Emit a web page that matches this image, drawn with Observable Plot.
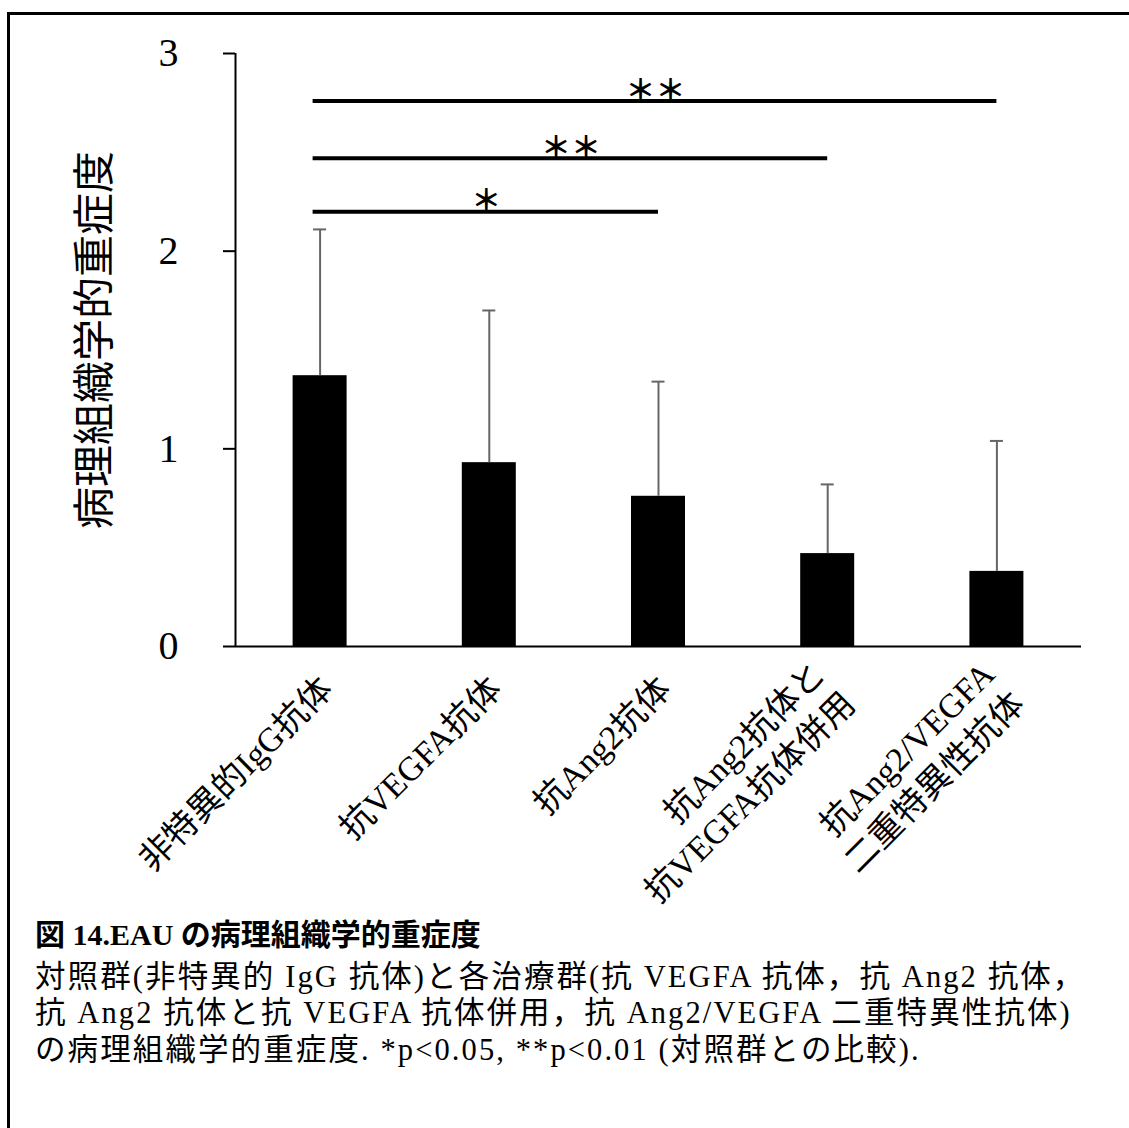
<!DOCTYPE html>
<html><head><meta charset="utf-8">
<script src="https://cdn.jsdelivr.net/npm/d3@7"></script>
<script src="https://cdn.jsdelivr.net/npm/@observablehq/plot@0.6"></script>
<style>
html,body{margin:0;padding:0;background:#fff;}
body{width:1129px;height:1128px;position:relative;overflow:hidden;font-family:"Liberation Serif","Noto Sans CJK JP",serif;color:#000;}
#frame{position:absolute;left:7px;top:12px;right:-10px;bottom:-10px;border-top:3px solid #000;border-left:3px solid #000;pointer-events:none;z-index:2;}
#chart{position:absolute;left:0;top:0;}
.cap{position:absolute;left:35px;white-space:nowrap;z-index:3;}
#title{top:917px;font-size:30px;line-height:36px;font-weight:bold;}
.line{font-size:30.5px;line-height:36px;letter-spacing:2.1px;}
</style></head><body>
<div id="frame"></div>
<div id="chart"></div>
<div id="title" class="cap"></div>
<div id="l0" class="cap line" style="top:959px"></div>
<div id="l1" class="cap line" style="top:995px"></div>
<div id="l2" class="cap line" style="top:1032px"></div>
<script>
// ---- data ----
const categories = ["非特異的IgG抗体", "抗VEGFA抗体", "抗Ang2抗体", "抗Ang2抗体と\n抗VEGFA抗体併用", "抗Ang2/VEGFA\n二重特異性抗体"];
const means = [1.37, 0.93, 0.76, 0.47, 0.38];
const sds = [0.74, 0.77, 0.58, 0.35, 0.66];
const bracketFrom = [0, 0, 0];
const bracketTo = [2, 3, 4];
const bracketLevels = [2.20, 2.47, 2.76];
const bracketMarks = ["＊", "＊＊", "＊＊"];
const yTicks = [0, 1, 2, 3];
const yLabel = "病理組織学的重症度";
const captionTitle = "図 14.EAU の病理組織学的重症度";
const captionLines = [
  "対照群(非特異的 IgG 抗体)と各治療群(抗 VEGFA 抗体，抗 Ang2 抗体，",
  "抗 Ang2 抗体と抗 VEGFA 抗体併用，抗 Ang2/VEGFA 二重特異性抗体)",
  "の病理組織学的重症度. *p<0.05, **p<0.01 (対照群との比較)."
];

const FONT = '"Liberation Serif", "Noto Sans CJK JP", serif';
const data = categories.map((c, i) => ({i, cat: c, mean: means[i], sd: sds[i]}));
const brackets = bracketLevels.map((l, k) => ({from: bracketFrom[k], to: bracketTo[k], level: l, mark: bracketMarks[k]}));
const xDomain = [-0.5, categories.length - 0.5];

const chart = Plot.plot({
  width: 1129, height: 915,
  marginLeft: 235, marginRight: 48, marginTop: 53, marginBottom: 269,
  style: {background: "transparent", fontFamily: FONT, color: "#000"},
  x: {domain: xDomain, axis: null},
  y: {domain: [0, 3], axis: null},
  marks: [
    Plot.rectY(data, {x1: "i", x2: "i", y1: 0, y2: "mean", insetLeft: -27, insetRight: -27, fill: "#000"}),
    Plot.ruleX(data, {x: "i", y1: "mean", y2: d => d.mean + d.sd, stroke: "#666", strokeWidth: 2}),
    Plot.ruleY(data, {x1: "i", x2: "i", y: d => d.mean + d.sd, insetLeft: -6.5, insetRight: -6.5, stroke: "#666", strokeWidth: 2}),
    Plot.ruleY([0], {stroke: "#000", strokeWidth: 2}),
    Plot.ruleX([xDomain[0]], {stroke: "#000", strokeWidth: 2}),
    Plot.axisY({ticks: yTicks, tickFormat: d => String(d), tickSize: 12, tickPadding: 45, fontSize: 40, label: null, strokeWidth: 2}),
    Plot.axisX({ticks: data.map(d => d.i), tickFormat: i => categories[i], tickSize: 0, tickPadding: 35,
      rotate: -45, textAnchor: "end", lineAnchor: "middle", fontSize: 34, lineHeight: 1.25, label: null, dx: 5}),
    Plot.text([yLabel], {frameAnchor: "left", textAnchor: "middle", rotate: -90, dx: -140, dy: -10, fontSize: 42}),
    Plot.ruleY(brackets, {y: "level", x1: "from", x2: "to", strokeWidth: 4, insetLeft: -7, stroke: "#000"}),
    Plot.text(brackets, {x: d => (d.from + d.to) / 2, y: "level", text: "mark", dy: -10, dx: -3, fontSize: 30, fontWeight: "bold", fontFamily: "Noto Sans CJK JP"})
  ]
});
document.getElementById("chart").appendChild(chart);
document.getElementById("title").textContent = captionTitle;
captionLines.forEach((t, k) => document.getElementById("l" + k).textContent = t);
</script>
</body></html>
